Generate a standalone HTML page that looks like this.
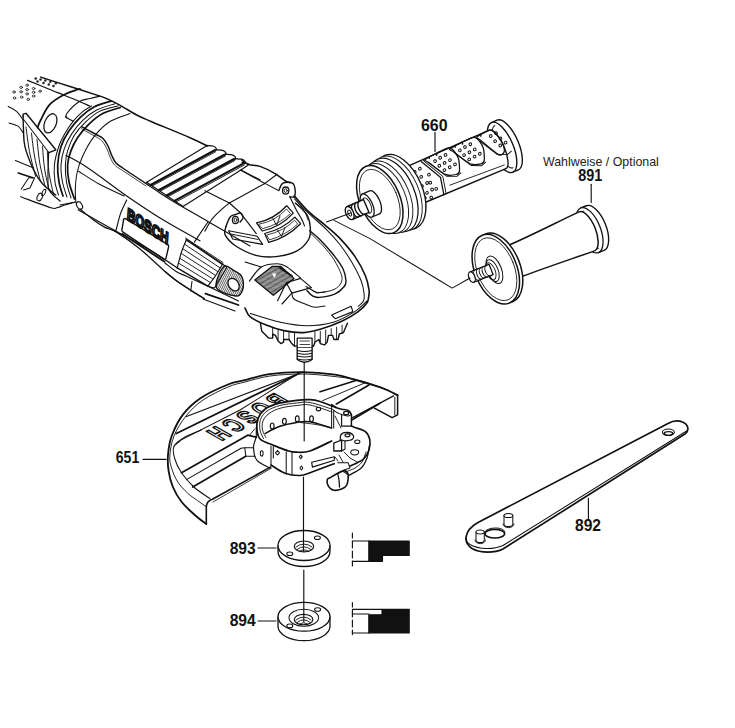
<!DOCTYPE html>
<html><head><meta charset="utf-8">
<style>
html,body{margin:0;padding:0;background:#fff;width:735px;height:728px;overflow:hidden}
svg{position:absolute;left:0;top:0}
.t{font-family:"Liberation Sans",sans-serif;font-weight:bold;fill:#111}
.w{font-family:"Liberation Sans",sans-serif;fill:#222}
</style></head><body>
<svg width="735" height="728" viewBox="0 0 735 728">
<g fill="none" stroke="#111" stroke-width="1.3" stroke-linejoin="round" stroke-linecap="round">
<text class="t" x="115.8" y="463.4" font-size="16" textLength="23.4" lengthAdjust="spacingAndGlyphs" stroke="none">651</text>
<text class="t" x="421" y="131.2" font-size="16" textLength="26.6" lengthAdjust="spacingAndGlyphs" stroke="none">660</text>
<text class="t" x="578.3" y="181.3" font-size="16" textLength="24" lengthAdjust="spacingAndGlyphs" stroke="none">891</text>
<text class="w" x="543" y="165.9" font-size="12.6" textLength="115.8" lengthAdjust="spacingAndGlyphs" stroke="none">Wahlweise / Optional</text>
<text class="t" x="229.7" y="553.8" font-size="16" textLength="26" lengthAdjust="spacingAndGlyphs" stroke="none">893</text>
<text class="t" x="229.7" y="626" font-size="16" textLength="26" lengthAdjust="spacingAndGlyphs" stroke="none">894</text>
<text class="t" x="575" y="531" font-size="16" textLength="26" lengthAdjust="spacingAndGlyphs" stroke="none">892</text>
<path d="M143 459.4H166" stroke-width="1.15"/>
<path d="M435 132.4V151.4" stroke-width="1.15"/>
<path d="M591.2 184.3V202.5" stroke-width="1.15"/>
<path d="M258 548H276" stroke-width="1.15"/>
<path d="M258 621H276" stroke-width="1.15"/>
<path d="M588.4 498.4V519.3" stroke-width="1.15"/>

<!-- 893 flange -->
<g id="f893">
<path d="M278 545.5 V551.5 A26 15 0 0 0 330 551.5 V545.5"/>
<ellipse cx="304" cy="545.5" rx="26" ry="15" fill="#fff"/>
<ellipse cx="304" cy="546.4" rx="9.7" ry="5.4" stroke-width="1.15"/>
<path d="M296 547 Q304 541 312 547 M297 549.5 Q304 544 311 549.5 M299 551.5 Q304 548 309 551.5" stroke-width="0.92"/>
<ellipse cx="317.4" cy="537.7" rx="3" ry="1.8" stroke-width="1.03"/>
<ellipse cx="289.8" cy="553.8" rx="3" ry="1.8" stroke-width="1.03"/>
</g>
<!-- 894 nut -->
<g id="f894">
<path d="M278 616.8 V626.3 A26 14.4 0 0 0 330 626.3 V616.8"/>
<ellipse cx="304" cy="616.8" rx="26" ry="14.4" fill="#fff"/>
<ellipse cx="303.8" cy="617.8" rx="14.8" ry="8.5" stroke-width="1.03"/>
<ellipse cx="303.6" cy="619.5" rx="9.3" ry="5.2" stroke-width="1.15"/>
<path d="M296 620 Q304 614 311 620 M297 622.5 Q304 617 310 622.5 M299 624.5 Q304 621 308 624.5" stroke-width="0.92"/>
<ellipse cx="317.6" cy="609.5" rx="3" ry="1.8" stroke-width="1.03"/>
<ellipse cx="289.8" cy="625.9" rx="3" ry="1.8" stroke-width="1.03"/>
</g>
<!-- vertical axis lines -->
<path d="M303.5 477 V551" stroke-width="1.15"/>
<path d="M303.8 570 V622" stroke-width="1.15"/>
<!-- icons -->
<g stroke-width="1.15">
<path d="M352.4 533 V538 M352.4 541 V548 M352.4 551 V558 M352.4 561 V566"/>
<path d="M352.4 541 H369 M352.4 561.3 H369"/>
<path d="M368.8 541 H409.2 V555.5 H382.5 V561.3 H368.8 Z" fill="#111"/>
<path d="M352.4 602.5 V607 M352.4 610 V617 M352.4 620 V627 M352.4 630 V634.6"/>
<path d="M352.4 609.4 H382 M352.4 614 H369 M352.4 633 H369"/>
<path d="M382 609.4 H409.2 V633 H368.8 V614.8 H382 Z" fill="#111"/>
</g>

<g id="wrench">
<path d="M478 522.5 L668 423.5 C672 421.3 678 420.3 682.5 422 C688.5 424.5 689.5 430.5 685.3 433.8 L503 549 C495 553 481 553.5 472 548.5 C463.5 543 463 531 478 522.5 Z" stroke-width="1.72"/>
<path d="M687 430.8 L503 545.5 C493 550 479 549.5 470 544.5 C467 542.5 465.8 540.5 465.5 538" stroke-width="1.03"/>
<ellipse cx="494.8" cy="533.7" rx="9.8" ry="4.3" stroke-width="1.61"/>
<path d="M484.5 532 C486 527.5 503 525.5 505 532" stroke-width="0.92"/>
<path d="M476 532 V540 C476 543.5 484.3 543.5 484.3 540 V532" stroke-width="1.03" fill="#fff"/>
<ellipse cx="480.1" cy="532" rx="4.1" ry="2" stroke-width="1.03" fill="#fff"/>
<path d="M475 540 C475 545 485.5 545 485.5 540" stroke-width="0.92"/>
<path d="M504 515.5 V524 C504 527.5 512.8 527.5 512.8 524 V515.5" stroke-width="1.03" fill="#fff"/>
<ellipse cx="508.4" cy="515.5" rx="4.4" ry="2.1" stroke-width="1.03" fill="#fff"/>
<path d="M503 524 C503 529 514 529 514 524" stroke-width="0.92"/>
<ellipse cx="668.4" cy="432.2" rx="6" ry="3.2" stroke-width="1.03"/>
<path d="M664 433.5 C665 431 672 431 673 433.5 C672 436 665 436 664 433.5 Z" stroke-width="1.49"/>
</g>

<g id="guard">
<path d="M397.6 395.2 C394.9 393.9 388.5 390.3 381.2 387.7 C373.9 385.1 361.7 381.7 354.0 379.5 C346.3 377.3 343.6 375.9 335.0 374.7 C326.4 373.5 313.4 372.3 302.5 372.2 C291.6 372.1 279.1 372.8 269.5 374.1 C259.9 375.4 251.9 378.5 245.0 380.2 C238.1 381.9 235.4 381.5 228.0 384.5 C220.6 387.5 208.3 393.0 200.8 398.0 C193.3 403.0 187.9 408.1 183.1 414.4 C178.2 420.7 174.2 429.3 171.7 436.0 C169.2 442.7 168.5 449.0 168.0 454.8 C167.5 460.6 167.8 465.5 168.6 470.9 C169.4 476.3 170.8 481.9 172.9 487.0 C175.1 492.1 178.0 497.3 181.5 501.8 C185.0 506.3 189.8 510.5 193.9 514.2 C198.0 517.9 204.2 522.5 206.3 524.1" stroke-width="1.84"/>
<path d="M389.0 390.5 C384.2 388.8 369.8 382.9 360.0 380.5 C350.2 378.1 339.7 377.1 330.0 376.0 C320.3 374.9 312.0 374.0 302.0 374.0 C292.0 374.0 279.5 374.7 270.0 376.0 C260.5 377.3 252.0 380.2 245.0 382.0 C238.0 383.8 235.0 384.0 228.0 387.0 C221.0 390.0 210.0 395.2 203.0 400.0 C196.0 404.8 190.8 410.0 186.0 416.0 C181.2 422.0 176.7 429.3 174.0 436.0 C171.3 442.7 170.2 450.7 169.8 456.1 C169.4 461.5 170.4 464.1 171.7 468.4 C173.0 472.7 175.1 477.9 177.8 482.0 C180.5 486.1 184.4 490.1 187.7 493.2 C191.0 496.3 194.5 498.4 197.6 500.6 C200.7 502.9 204.9 505.7 206.3 506.7" stroke-width="0.92"/>
<path d="M201.2 430.0 C198.5 431.2 189.5 434.3 185.0 437.0 C180.5 439.7 175.7 442.6 174.0 446.2 C172.3 449.8 173.4 454.1 174.7 458.5 C175.9 462.9 178.3 468.1 181.5 472.8 C184.7 477.6 189.2 482.7 193.9 487.0 C198.7 491.3 207.3 496.8 210.0 498.7" stroke-width="1.03"/>
<path d="M206.3 524.1 V506.9 C206.5 503.5 208.5 500.5 212.4 499.3 L270.8 466.9" stroke-width="1.61"/>
<path d="M352.2 419.7 L380 403.2" stroke-width="1.61"/>
<path d="M213 502 L270 469" stroke-width="0.80"/>
<path d="M397.6 395.2 V414.9 L392.1 417.6 L374.4 408.1" stroke-width="1.49"/>
<path d="M394.8 397.2 V414.9" stroke-width="0.92"/>
<path d="M393.5 395.9 L352.7 417.6" stroke-width="1.26"/>
<path d="M181.5 472.8 L247.7 435.2 L256.3 437.1" stroke-width="1.72"/>
<path d="M256.3 437.1 L256.3 427.5" stroke-width="1.15"/>
<path d="M186.5 479.6 L241.0 448.2 L244.8 447.7 L253.5 447.7" stroke-width="1.03"/>
<path d="M244.8 447.7 L245.8 456.3 L255.0 456.3" stroke-width="1.03"/>
<path d="M192.7 487.0 L245.8 456.3" stroke-width="1.72"/>
<path d="M174.0 446.2 L181.5 440.0" stroke-width="0.92"/>
<path d="M186.5 416.5 L302.5 372.2" stroke-width="1.15"/>
<path d="M176.3 433.5 L298.9 373.5" stroke-width="1.72"/>
<path d="M181.8 439.6 L240.0 410.0 L296.4 374.7" stroke-width="1.03"/>
<path d="M320.0 391.8 L356.7 380.2" stroke-width="1.61"/>
<path d="M322.7 400.6 L364.9 382.9" stroke-width="1.03"/>
<path d="M336.3 404.0 L369.0 385.0" stroke-width="1.61"/>

<text x="0" y="0" font-family="Liberation Sans, sans-serif" font-weight="bold" font-size="20" letter-spacing="4.6" fill="#fff" stroke="#111" stroke-width="1.72" stroke-linejoin="round" vector-effect="non-scaling-stroke" transform="matrix(-0.772 0.433 -1.154 -0.661 275.3 392.7)">BOSCH</text>

<path d="M335.7 407.4 C333.1 406.4 324.3 402.8 320.0 401.5 C315.7 400.2 313.9 399.9 310.0 399.7 C306.1 399.5 301.8 399.7 296.7 400.3 C291.6 400.9 284.4 401.8 279.2 403.2 C273.9 404.6 268.7 406.5 265.2 409.0 C261.7 411.5 259.6 414.8 258.2 418.3 C256.8 421.8 256.6 426.5 257.0 430.0 C257.4 433.5 257.8 436.9 260.5 439.4 C263.2 441.9 268.6 443.3 273.3 445.2 C278.0 447.1 284.6 449.8 288.5 451.0 C292.4 452.2 293.1 452.2 296.7 452.2 C300.3 452.2 304.2 452.9 310.0 451.0 C315.8 449.1 328.0 442.7 331.6 441.0" stroke-width="1.72" fill="#fff"/>
<path d="M333.0 409.5 C329.2 408.3 316.1 403.6 310.0 402.5 C303.9 401.4 301.7 402.5 296.7 403.0 C291.7 403.5 284.9 404.2 280.0 405.5 C275.1 406.8 270.2 408.7 267.0 411.0 C263.8 413.3 261.7 416.3 260.5 419.5 C259.3 422.7 259.5 426.8 260.0 430.0 C260.5 433.2 262.9 437.1 263.5 438.5" stroke-width="0.92"/>
<path d="M332.0 412.0 C328.3 410.8 315.8 406.1 310.0 405.0 C304.2 403.9 301.8 405.0 297.0 405.5 C292.2 406.0 285.7 406.7 281.0 408.0 C276.3 409.3 272.0 411.3 269.0 413.5 C266.0 415.7 264.1 418.2 263.0 421.0 C261.9 423.8 262.0 427.2 262.5 430.0 C263.0 432.8 265.4 436.2 266.0 437.5" stroke-width="0.92"/>
<path d="M265.2 433.5 C267.5 432.3 273.9 428.4 279.2 426.5 C284.4 424.6 291.6 423.2 296.7 422.4 C301.8 421.6 304.2 420.9 310.0 421.8 C315.8 422.7 328.0 427.0 331.6 428.0" stroke-width="1.49"/>
<path d="M300.0 422.5 C302.7 422.8 310.7 423.6 316.0 424.5 C321.3 425.4 329.0 427.4 331.6 428.0" stroke-width="0.92"/>
<ellipse cx="272.2" cy="426.0" rx="1.9" ry="3" stroke-width="1.15"/>
<ellipse cx="284.4" cy="421.3" rx="1.9" ry="3" stroke-width="1.15"/>
<ellipse cx="297.3" cy="418.9" rx="1.9" ry="3" stroke-width="1.15"/>
<ellipse cx="311.5" cy="418.8" rx="1.9" ry="3" stroke-width="1.15"/>
<ellipse cx="318.5" cy="409" rx="2.2" ry="1.8" stroke-width="1.15"/>
<path d="M271 446 V465 M273.3 446.4 V458 M286.2 452 V474 M292 452.5 V474.5 M333.7 410 V428" stroke-width="1.03"/>
<path d="M331.6 404.6 V428" stroke-width="1.03"/>
<path d="M271.0 465.0 C273.3 466.4 280.2 471.4 285.0 473.2 C289.8 474.9 295.5 475.7 300.0 475.5 C304.5 475.3 306.3 474.0 312.0 472.0 C317.7 470.0 330.6 465.1 334.3 463.7" stroke-width="1.61"/>
<path d="M256.3 437.0 C255.8 438.8 253.4 443.6 253.5 447.5 C253.6 451.4 254.1 456.9 257.0 460.4 C259.9 463.9 268.7 467.1 271.0 468.5" stroke-width="1.15"/>
<path d="M250.0 434.7 L254.7 428.9" stroke-width="0.92"/>
<ellipse cx="261.7" cy="453.4" rx="1.4" ry="2.6" stroke-width="1.03"/>
<path d="M275.5 452.8 L277.5 450.5 L279.5 452.8 L277.5 455 Z" stroke-width="1.03"/>
<path d="M299.3 456.9 L300.8 455 L302.3 456.9 L300.8 458.8 Z M299.9 468 L301.4 466 L302.9 468 L301.4 470 Z" stroke-width="1.03"/>
<path d="M311.7 462.3 L334.3 456.8 L334.3 460.2 L312.4 467.1Z" stroke-width="1.15"/>
<path d="M331.6 404.6 C332.3 405.1 334.3 406.7 336.0 407.5 C337.7 408.3 339.6 408.7 341.6 409.2 C343.6 409.7 346.5 409.6 348.1 410.5 C349.7 411.4 350.8 412.8 351.4 414.4 C351.9 416.0 351.4 418.1 351.4 420.0 C351.4 421.9 351.4 425.1 351.4 426.1" stroke-width="1.49"/>
<path d="M341.6 414.4 L341.6 426.1 L351.4 426.1" stroke-width="1.15"/>
<path d="M333.8 410.5 C334.5 410.9 336.7 412.4 338.0 413.0 C339.3 413.6 339.9 413.9 341.6 414.4 C343.3 414.9 346.4 416.0 348.0 416.0 C349.6 416.0 350.8 414.7 351.4 414.4" stroke-width="1.03"/>
<ellipse cx="346.2" cy="413.1" rx="2.6" ry="1.7" stroke-width="1.26"/>
<path d="M351.4 426.1 C351.9 426.3 352.4 426.6 354.7 427.5 C357.0 428.4 362.6 429.4 365.1 431.4 C367.6 433.3 369.0 436.1 369.7 439.2 C370.4 442.2 370.1 446.4 369.1 449.7 C368.1 453.0 365.8 456.6 363.8 458.8 C361.8 461.0 359.6 461.5 357.3 462.7 C355.0 463.9 351.2 465.4 350.0 466.0" stroke-width="1.61"/>
<path d="M369.5 445.0 C369.1 447.2 368.4 454.2 367.0 458.0 C365.6 461.8 364.3 465.0 361.2 468.0 C358.1 471.0 350.3 474.5 348.1 475.8" stroke-width="1.26"/>
<path d="M366.0 452.0 C365.3 453.7 363.8 459.3 362.0 462.0 C360.2 464.7 357.3 466.5 355.0 468.0 C352.7 469.5 349.2 470.5 348.0 471.0" stroke-width="0.92"/>
<path d="M340.3 440.5 C340.4 439.5 339.8 435.8 341.0 434.5 C342.2 433.2 345.4 432.3 347.5 432.5 C349.6 432.7 352.6 434.3 353.4 435.5 C354.1 436.7 353.4 438.6 352.0 439.5 C350.6 440.4 346.2 440.8 345.0 441.0" stroke-width="1.26" fill="#fff"/>
<ellipse cx="347.5" cy="435.3" rx="2.5" ry="1.5" stroke-width="1.15"/>
<path d="M333.8 443.1 L341.6 440.0 L341.6 451.0 L333.8 451.0 L333.8 443.1" stroke-width="1.26"/>
<path d="M341.6 440.0 L345.0 441.0 L345.0 449.0 L341.6 451.0" stroke-width="1.03"/>
<ellipse cx="357.3" cy="441.8" rx="2.6" ry="1.8" stroke-width="1.03"/>
<ellipse cx="354.7" cy="452.3" rx="4" ry="2.6" stroke-width="1.03"/>
<path d="M335 416 L341 428 M344 452 L350 458 L357 462 M339 455 L343 462 M335 457 L338 461" stroke-width="0.92"/>
<path d="M337.7 462.7 L348.1 462.7 L350.0 468.0 L344.0 470.0" stroke-width="1.03"/>
<path d="M327.2 479.7 C326.8 481.2 327.4 484.6 328.5 486.3 C329.6 488.1 331.6 489.8 333.8 490.2 C336.0 490.6 339.4 489.8 341.6 488.9 C343.8 488.0 345.7 487.4 346.8 485.0 C347.9 482.6 348.5 476.9 348.1 474.5 C347.7 472.1 345.9 470.8 344.2 470.6 C342.5 470.4 339.9 472.1 337.7 473.2 C335.5 474.3 332.9 476.0 331.2 477.1 C329.4 478.2 327.6 478.2 327.2 479.7Z" stroke-width="1.61" fill="#fff"/>
<path d="M337.7 473.5 C337.9 474.6 338.7 477.8 339.0 480.0 C339.3 482.2 339.4 485.8 339.5 487.0" stroke-width="1.26"/>
<path d="M337.7 473.5 C338.6 473.2 341.4 471.3 343.0 471.5 C344.6 471.7 346.8 474.0 347.5 474.5" stroke-width="1.03"/>
<path d="M304.2 361 V441" stroke-width="1.15"/>
</g>

<g transform="translate(380 200) rotate(-23.3)">
<path d="M133 -27 H139 A11 27 0 0 1 139 27 H133" stroke-width="1.38" fill="#fff"/>
<ellipse cx="133.0" cy="0.0" rx="11.0" ry="27.0" stroke-width="1.38" fill="#fff"/>
<path d="M135 -23 A8 23 0 0 0 135 23" stroke-width="0.92"/>
<path d="M30 -20 L128 -21 A7 21 0 0 1 128 21 L30 20 Z" stroke-width="1.38" fill="#fff"/>
<path d="M58.0 -19.5 C60.9 -20.0 80.4 -21.9 84.0 -20.5 C87.6 -19.1 88.5 -10.7 88.5 -7.7 C88.5 -4.7 85.4 3.2 84.4 4.9 C83.4 6.6 81.7 7.0 80.0 6.7 C78.3 6.4 72.5 4.9 70.0 2.3 C67.5 -0.3 60.4 -13.5 59.0 -16.0 C57.6 -18.5 55.1 -19.0 58.0 -19.5Z" stroke-width="1.26"/>
<path d="M60.0 -14.5 L70.5 4.5 L80.0 8.7 L85.0 7.0" stroke-width="0.92"/>
<circle cx="66.0" cy="-14.0" r="1.35" stroke-width="0.98"/>
<circle cx="72.0" cy="-15.0" r="1.35" stroke-width="0.98"/>
<circle cx="78.0" cy="-15.5" r="1.35" stroke-width="0.98"/>
<circle cx="68.0" cy="-8.0" r="1.35" stroke-width="0.98"/>
<circle cx="74.0" cy="-8.5" r="1.35" stroke-width="0.98"/>
<circle cx="80.0" cy="-9.0" r="1.35" stroke-width="0.98"/>
<circle cx="71.0" cy="-2.0" r="1.35" stroke-width="0.98"/>
<circle cx="77.0" cy="-2.5" r="1.35" stroke-width="0.98"/>
<circle cx="83.0" cy="-3.0" r="1.35" stroke-width="0.98"/>
<path d="M85.0 -19.5 C87.9 -20.0 107.4 -21.9 111.0 -20.5 C114.6 -19.1 115.5 -10.7 115.5 -7.7 C115.5 -4.7 112.4 3.2 111.4 4.9 C110.4 6.6 108.7 7.0 107.0 6.7 C105.3 6.4 99.5 4.9 97.0 2.3 C94.5 -0.3 87.4 -13.5 86.0 -16.0 C84.6 -18.5 82.1 -19.0 85.0 -19.5Z" stroke-width="1.26"/>
<path d="M87.0 -14.5 L97.5 4.5 L107.0 8.7 L112.0 7.0" stroke-width="0.92"/>
<circle cx="93.0" cy="-14.0" r="1.35" stroke-width="0.98"/>
<circle cx="99.0" cy="-15.0" r="1.35" stroke-width="0.98"/>
<circle cx="105.0" cy="-15.5" r="1.35" stroke-width="0.98"/>
<circle cx="95.0" cy="-8.0" r="1.35" stroke-width="0.98"/>
<circle cx="101.0" cy="-8.5" r="1.35" stroke-width="0.98"/>
<circle cx="107.0" cy="-9.0" r="1.35" stroke-width="0.98"/>
<circle cx="98.0" cy="-2.0" r="1.35" stroke-width="0.98"/>
<circle cx="104.0" cy="-2.5" r="1.35" stroke-width="0.98"/>
<circle cx="110.0" cy="-3.0" r="1.35" stroke-width="0.98"/>
<path d="M114.0 -19.5 C115.5 -20.1 126.7 -21.4 129.0 -20.5 C131.3 -19.6 132.8 -14.0 133.5 -12.0 C134.2 -10.0 135.1 -5.0 135.0 -3.0 C134.9 -1.0 133.9 4.0 133.0 5.0 C132.1 6.0 129.0 7.8 127.0 5.5 C125.0 3.2 117.5 -12.1 116.0 -15.0 C114.5 -17.9 112.5 -18.9 114.0 -19.5Z" stroke-width="1.26"/>
<path d="M115.0 -14.5 L125.5 4.5 L135.0 8.7 L140.0 7.0" stroke-width="0.92"/>
<circle cx="127.0" cy="-15.0" r="1.35" stroke-width="0.98"/>
<circle cx="133.0" cy="-15.5" r="1.35" stroke-width="0.98"/>
<circle cx="129.0" cy="-8.5" r="1.35" stroke-width="0.98"/>
<circle cx="135.0" cy="-9.0" r="1.35" stroke-width="0.98"/>
<circle cx="132.0" cy="-2.5" r="1.35" stroke-width="0.98"/>
<circle cx="138.0" cy="-3.0" r="1.35" stroke-width="0.98"/>
<path d="M53.0 -19.0 L64.5 3.0 L60.7 20.6" stroke-width="1.26"/>
<path d="M55.5 -19.0 L67.0 3.0 L63.2 20.6" stroke-width="0.92"/>
<circle cx="43.0" cy="-12.0" r="1.35" stroke-width="0.98"/>
<circle cx="49.0" cy="-13.0" r="1.35" stroke-width="0.98"/>
<circle cx="55.0" cy="-4.0" r="1.35" stroke-width="0.98"/>
<circle cx="41.0" cy="-4.0" r="1.35" stroke-width="0.98"/>
<circle cx="47.0" cy="-5.0" r="1.35" stroke-width="0.98"/>
<circle cx="53.0" cy="4.0" r="1.35" stroke-width="0.98"/>
<circle cx="44.0" cy="4.0" r="1.35" stroke-width="0.98"/>
<circle cx="50.0" cy="3.0" r="1.35" stroke-width="0.98"/>
<circle cx="56.0" cy="12.0" r="1.35" stroke-width="0.98"/>
<circle cx="46.0" cy="12.0" r="1.35" stroke-width="0.98"/>
<circle cx="52.0" cy="11.0" r="1.35" stroke-width="0.98"/>
<circle cx="48.0" cy="18.0" r="1.35" stroke-width="0.98"/>
<circle cx="42.0" cy="16.0" r="1.35" stroke-width="0.98"/>
<circle cx="40.0" cy="-19" r="0.9" fill="#111" stroke="none"/>
<circle cx="62.0" cy="-19" r="0.9" fill="#111" stroke="none"/>
<circle cx="70.0" cy="-19" r="0.9" fill="#111" stroke="none"/>
<circle cx="90.0" cy="-19" r="0.9" fill="#111" stroke="none"/>
<circle cx="98.0" cy="-19" r="0.9" fill="#111" stroke="none"/>
<circle cx="118.0" cy="-19" r="0.9" fill="#111" stroke="none"/>
<path d="M70.0 14.0 L128.0 17.0" stroke-width="0.80"/>
<ellipse cx="22.0" cy="0.5" rx="22.0" ry="39.5" stroke-width="1.38" fill="#fff"/>
<ellipse cx="18.0" cy="0.5" rx="22.0" ry="39.5" stroke-width="0.92" fill="#fff"/>
<ellipse cx="14.0" cy="0.5" rx="21.5" ry="39.0" stroke-width="1.26" fill="#fff"/>
<ellipse cx="9.0" cy="0.5" rx="21.0" ry="38.0" stroke-width="0.92" fill="#fff"/>
<ellipse cx="5.0" cy="0.5" rx="20.5" ry="37.0" stroke-width="0.92" fill="#fff"/>
<ellipse cx="0.0" cy="-0.5" rx="20.0" ry="36.0" stroke-width="1.49" fill="#fff"/>
<ellipse cx="0.0" cy="-0.5" rx="17.5" ry="32.0" stroke-width="0.80"/>
<path d="M-14 -12.5 H-6 A5.5 12.5 0 0 1 -6 12.5 H-14" stroke-width="1.26" fill="#fff"/>
<ellipse cx="-14.0" cy="0.0" rx="5.5" ry="12.5" stroke-width="1.26" fill="#fff"/>
<ellipse cx="-14.0" cy="0.0" rx="3.6" ry="8.2" stroke-width="0.92"/>
<path d="M-33 -7 H-15 V7 H-33" stroke-width="1.38" fill="#fff"/>
<path d="M-30.0 -7 A3.5 7 0 0 0 -30.0 7" stroke-width="1.38"/>
<path d="M-26.5 -7 A3.5 7 0 0 0 -26.5 7" stroke-width="1.38"/>
<path d="M-23.0 -7 A3.5 7 0 0 0 -23.0 7" stroke-width="1.38"/>
<path d="M-19.5 -7 A3.5 7 0 0 0 -19.5 7" stroke-width="1.38"/>
<ellipse cx="-33.0" cy="0.0" rx="3.8" ry="7.0" stroke-width="1.38" fill="#fff"/>
<ellipse cx="-33.0" cy="0.0" rx="1.6" ry="3.2" stroke-width="0.92"/>
</g>
<g transform="translate(498.5 266.5) rotate(-21.7)">
<path d="M98 -24 H104 A11 24 0 0 1 104 24 H98" stroke-width="1.38" fill="#fff"/>
<ellipse cx="98.0" cy="0.0" rx="11.0" ry="24.0" stroke-width="1.26" fill="#fff"/>
<path d="M100 -20 A8 20 0 0 0 100 20" stroke-width="0.92"/>
<path d="M18 -16 C45 -17 70 -19.5 95 -21 A9 21 0 0 1 95 21 C70 20 45 18.5 18 18 Z" stroke-width="1.49" fill="#fff"/>
<ellipse cx="0.0" cy="1.5" rx="21.0" ry="36.5" stroke-width="1.49" fill="#fff"/>
<ellipse cx="-3.5" cy="1.5" rx="21.0" ry="36.5" stroke-width="1.49" fill="#fff"/>
<ellipse cx="-3.5" cy="1.5" rx="18.5" ry="33.0" stroke-width="0.80"/>
<ellipse cx="-5.0" cy="1.6" rx="7.0" ry="14.5" stroke-width="1.03" fill="#fff"/>
<ellipse cx="-7.0" cy="1.6" rx="5.5" ry="11.5" stroke-width="0.92"/>
<ellipse cx="-9.0" cy="1.6" rx="4.5" ry="9.0" stroke-width="0.92"/>
<path d="M-28.7 -5.5 H-8 V5.5 H-28.7" stroke-width="1.26" fill="#fff"/>
<path d="M-26.0 -5.5 A3 5.5 0 0 0 -26.0 5.5" stroke-width="1.03"/>
<path d="M-23.0 -5.5 A3 5.5 0 0 0 -23.0 5.5" stroke-width="1.03"/>
<path d="M-20.0 -5.5 A3 5.5 0 0 0 -20.0 5.5" stroke-width="1.03"/>
<path d="M-17.0 -5.5 A3 5.5 0 0 0 -17.0 5.5" stroke-width="1.03"/>
<path d="M-14.0 -5.5 A3 5.5 0 0 0 -14.0 5.5" stroke-width="1.03"/>
<path d="M-11.0 -5.5 A3 5.5 0 0 0 -11.0 5.5" stroke-width="1.03"/>
<ellipse cx="-28.7" cy="0.0" rx="3.0" ry="5.5" stroke-width="1.26" fill="#fff"/>
</g>
<path d="M326.5 222.0 L350.7 212.9" stroke-width="1.03"/>
<path d="M334.0 220.4 L370.0 238.6 L440.0 280.7 L452.2 288.1 L470.0 278.0" stroke-width="1.03"/>

<g id="grinder">
<path d="M40.7 77.1 C45.6 78.7 60.1 83.3 70.0 86.5 C79.9 89.7 93.7 94.0 100.0 96.1 C106.3 98.2 104.5 97.7 107.9 99.2 C111.3 100.8 115.4 102.8 120.2 105.4 C125.0 108.0 131.7 112.4 136.7 115.0 C141.7 117.6 141.5 117.4 150.4 121.2 C159.3 125.0 180.5 133.5 190.0 137.7 C199.5 141.8 204.6 144.7 207.5 146.1" stroke-width="1.49"/>
<path d="M27.6 80.3 C30.5 81.5 39.0 85.0 45.0 87.5 C51.0 90.0 58.3 92.9 63.5 95.0 C68.7 97.1 71.7 98.2 76.0 100.0 C80.3 101.8 87.3 104.9 89.6 105.9" stroke-width="1.26"/>
<path d="M80.0 88.8 C79.6 88.9 80.5 88.5 77.7 89.5 C75.0 90.5 68.2 92.5 63.5 95.0 C58.8 97.5 53.2 100.6 49.4 104.8 C45.6 109.0 42.7 116.2 40.7 120.0 C38.7 123.8 38.0 126.4 37.5 127.7" stroke-width="1.72"/>
<ellipse cx="50.4" cy="123.3" rx="5.8" ry="10" transform="rotate(22 50.4 123.3)" stroke-width="1.26"/>
<path d="M23.1 116.2 L23.1 114.2 L26.0 113.3 L55.8 149.8 L49.0 152.7" stroke-width="1.38"/>
<path d="M24.0 120.0 L49.0 152.7" stroke-width="1.03"/>
<path d="M23.1 116.2 C23.2 118.5 23.2 124.9 23.5 130.0 C23.8 135.1 23.3 140.2 25.0 146.9 C26.7 153.6 30.8 163.9 33.7 170.0 C36.6 176.1 38.6 179.3 42.3 183.5 C46.0 187.7 53.5 193.1 55.8 195.0" stroke-width="1.38"/>
<path d="M26.0 127.0 C26.6 131.1 27.9 143.5 29.5 151.7 C31.1 159.9 34.6 172.3 35.6 176.4" stroke-width="0.98"/>
<path d="M31.5 133.2 C32.0 137.2 33.2 149.3 34.7 157.3 C36.2 165.4 39.5 177.5 40.5 181.5" stroke-width="0.98"/>
<path d="M37.0 139.3 C37.5 143.2 38.4 154.9 39.7 162.7 C41.0 170.4 44.1 182.1 45.0 186.0" stroke-width="0.98"/>
<path d="M42.5 146.2 C42.8 149.8 43.4 160.8 44.5 168.1 C45.5 175.4 48.2 186.3 49.0 190.0" stroke-width="0.98"/>
<path d="M47.3 151.7 C47.6 155.3 48.1 166.0 49.1 173.1 C50.1 180.2 52.8 190.9 53.5 194.5" stroke-width="0.98"/>
<path d="M48.7 152.4 C48.6 155.9 47.9 167.4 48.0 173.7 C48.1 180.0 47.2 185.6 49.3 190.2 C51.3 194.8 58.5 199.4 60.3 201.2" stroke-width="1.15"/>
<path d="M66.8 117.9 C66.8 117.2 64.7 116.2 66.8 113.5 C68.9 110.8 75.4 104.1 79.3 101.6 C83.2 99.1 86.5 99.4 90.0 98.5 C93.5 97.6 98.3 96.5 100.0 96.1" stroke-width="1.15"/>
<path d="M65.4 116.9 L73.1 121.3" stroke-width="1.15"/>
<path d="M91.8 105.9 C90.3 106.8 86.1 108.8 83.0 111.4 C79.9 114.0 76.2 117.5 73.1 121.3 C70.0 125.1 66.7 130.3 64.3 134.5 C61.9 138.7 60.4 141.4 58.8 146.5 C57.1 151.6 55.0 159.1 54.4 165.0 C53.8 170.9 54.3 177.0 55.0 182.0 C55.7 187.0 57.9 192.8 58.5 195.0" stroke-width="1.03"/>
<path d="M111.5 100.9 C108.6 101.9 99.1 104.3 94.0 107.0 C88.9 109.7 85.0 112.9 80.8 116.9 C76.6 120.9 72.0 126.3 68.7 131.2 C65.4 136.1 62.8 140.9 61.0 146.5 C59.2 152.1 58.0 159.1 57.7 165.0 C57.4 170.9 58.1 176.8 59.0 182.0 C59.9 187.2 62.3 193.7 63.0 196.0" stroke-width="1.72"/>
<path d="M114.8 103.7 C111.7 104.8 101.5 107.5 96.2 110.3 C90.9 113.0 87.0 116.3 83.0 120.2 C79.0 124.1 75.1 128.7 72.0 133.4 C68.9 138.2 66.1 143.4 64.3 148.7 C62.5 154.0 61.3 159.4 61.0 165.0 C60.7 170.6 61.5 176.7 62.5 182.0 C63.5 187.3 66.2 194.5 67.0 197.0" stroke-width="1.03"/>
<path d="M118.1 105.9 C115.0 106.8 105.0 108.7 99.5 111.4 C94.0 114.2 89.4 118.4 85.2 122.4 C81.0 126.4 77.1 130.8 74.2 135.5 C71.3 140.2 69.1 146.0 67.6 150.9 C66.1 155.8 65.6 159.8 65.4 165.0 C65.2 170.2 65.6 176.5 66.5 182.0 C67.4 187.5 70.2 195.3 71.0 198.0" stroke-width="1.03"/>
<path d="M120.3 107.5 C117.4 108.5 108.0 110.8 102.7 113.6 C97.4 116.4 92.7 120.6 88.5 124.6 C84.3 128.6 80.4 133.3 77.5 137.7 C74.6 142.1 72.6 146.3 70.9 150.9 C69.2 155.5 67.9 159.8 67.6 165.0 C67.3 170.2 67.8 176.3 69.0 182.0 C70.2 187.7 73.6 196.2 74.5 199.0" stroke-width="1.72"/>
<path d="M130.0 113.6 C126.7 114.9 116.4 117.5 110.4 121.3 C104.4 125.1 98.7 130.7 94.0 136.6 C89.3 142.5 85.3 150.4 82.5 156.5 C79.7 162.6 78.2 167.5 77.0 173.0 C75.8 178.5 75.5 184.6 75.3 189.5 C75.1 194.4 75.8 200.4 75.9 202.6" stroke-width="1.03"/>
<path d="M81.9 126.8 C84.3 128.1 92.7 132.6 96.2 134.5 C99.7 136.4 101.0 136.6 103.0 138.5 C105.0 140.4 106.5 143.1 108.0 146.0 C109.5 148.9 110.7 153.2 112.0 156.0 C113.3 158.8 114.1 160.9 116.0 163.0 C117.9 165.1 118.1 164.8 123.4 168.5 C128.8 172.2 144.0 182.2 148.1 184.9" stroke-width="1.49"/>
<path d="M81.5 128.8 C83.8 130.1 92.2 134.6 95.5 136.5 C98.8 138.4 99.7 138.7 101.5 140.5 C103.3 142.3 104.8 144.7 106.3 147.5 C107.8 150.3 108.9 154.6 110.3 157.5 C111.7 160.4 112.5 162.6 114.5 164.8 C116.5 167.0 117.2 167.0 122.5 170.5 C127.8 174.0 142.1 183.4 146.0 186.0" stroke-width="0.80"/>
<path d="M66.0 155.4 C68.4 156.7 74.6 159.6 80.3 163.1 C86.0 166.6 92.4 171.1 100.0 176.5 C107.6 181.9 116.0 188.6 126.0 195.5 C136.0 202.4 147.7 210.4 160.0 218.0 C172.3 225.6 193.3 237.0 200.0 240.8" stroke-width="1.15"/>
<path d="M78.6 171.3 C82.0 173.4 91.4 179.9 99.0 184.0 C106.6 188.1 120.0 194.0 124.2 196.0" stroke-width="1.03"/>
<path d="M60.0 204.9 L76.0 202.0" stroke-width="1.03"/>
<path d="M8.2 106.5 C9.6 107.3 14.0 109.2 16.5 111.4 C19.0 113.6 21.9 118.3 23.0 119.7" stroke-width="1.03"/>
<path d="M9.0 123.0 C10.5 123.5 15.7 124.6 18.0 126.2 C20.3 127.8 22.2 131.7 23.0 132.8" stroke-width="1.03"/>
<path d="M15.4 160.4 L33.7 168.0" stroke-width="1.03"/>
<path d="M18.3 172.9 L32.7 177.7" stroke-width="1.61"/>
<path d="M20.6 196.7 C25.6 198.5 44.6 205.9 50.8 207.7 C56.9 209.5 55.2 207.9 57.5 207.5 C59.8 207.1 61.8 205.9 64.6 205.0 C67.4 204.1 72.6 202.7 74.2 202.2" stroke-width="1.15"/>
<path d="M21.2 189.2 L28.8 177.7 L34.6 177.7 L30.0 188.0 L23.5 190.0" stroke-width="1.03"/>
<ellipse cx="39.8" cy="197" rx="2.5" ry="4" transform="rotate(25 39.8 197)" stroke-width="1.03"/>
<ellipse cx="43.8" cy="192.5" rx="1.5" ry="3.5" transform="rotate(25 43.8 192.5)" stroke-width="1.03"/>
<ellipse cx="79.5" cy="205.5" rx="2.6" ry="4" transform="rotate(-30 79.5 205.5)" stroke-width="1.15"/>
<ellipse cx="14.0" cy="92.0" rx="1.3" ry="1.1" stroke-width="0.80"/>
<ellipse cx="14.5" cy="98.0" rx="1.3" ry="1.1" stroke-width="0.80"/>
<ellipse cx="21.1" cy="87.4" rx="1.3" ry="1.1" stroke-width="0.80"/>
<ellipse cx="21.1" cy="91.8" rx="1.3" ry="1.1" stroke-width="0.80"/>
<ellipse cx="21.6" cy="97.2" rx="1.3" ry="1.1" stroke-width="0.80"/>
<ellipse cx="27.1" cy="85.2" rx="1.3" ry="1.1" stroke-width="0.80"/>
<ellipse cx="27.1" cy="89.6" rx="1.3" ry="1.1" stroke-width="0.80"/>
<ellipse cx="27.1" cy="93.9" rx="1.3" ry="1.1" stroke-width="0.80"/>
<ellipse cx="28.2" cy="99.4" rx="1.3" ry="1.1" stroke-width="0.80"/>
<ellipse cx="33.6" cy="88.5" rx="1.3" ry="1.1" stroke-width="0.80"/>
<ellipse cx="33.6" cy="92.3" rx="1.3" ry="1.1" stroke-width="0.80"/>
<ellipse cx="33.6" cy="96.1" rx="1.3" ry="1.1" stroke-width="0.80"/>
<ellipse cx="40.1" cy="91.2" rx="1.3" ry="1.1" stroke-width="0.80"/>
<circle cx="35.7" cy="78.6" r="1.25" fill="#222" stroke="none"/>
<circle cx="40.5" cy="79.6" r="1.25" fill="#222" stroke="none"/>
<circle cx="45.3" cy="80.6" r="1.25" fill="#222" stroke="none"/>
<circle cx="50.3" cy="81.8" r="1.25" fill="#222" stroke="none"/>
<circle cx="55.8" cy="83.2" r="1.25" fill="#222" stroke="none"/>
<circle cx="37.5" cy="81.5" r="1.25" fill="#222" stroke="none"/>
<circle cx="43.5" cy="83.0" r="1.25" fill="#222" stroke="none"/>
<circle cx="48.8" cy="84.6" r="1.25" fill="#222" stroke="none"/>
<circle cx="53.5" cy="86.0" r="1.25" fill="#222" stroke="none"/>
<path d="M146.7 182.2 L207.1 145.5" stroke-width="1.15"/>
<path d="M207.1 145.5 C208.1 145.6 211.4 145.5 212.9 146.0 C214.4 146.5 215.7 147.6 216.2 148.3 C216.7 149.0 215.8 149.9 215.7 150.2" stroke-width="1.26"/>
<path d="M150.6 184.8 L214.8 150.2" stroke-width="2.07"/>
<path d="M152.3 185.9 L215.7 151.7" stroke-width="0.92"/>
<path d="M216.7 149.9 C217.7 150.0 221.0 149.9 222.5 150.4 C224.0 150.9 225.3 152.0 225.8 152.7 C226.3 153.4 225.4 154.3 225.3 154.6" stroke-width="1.26"/>
<path d="M151.2 185.2 L216.7 149.9" stroke-width="1.03"/>
<path d="M158.6 190.1 L224.4 154.6" stroke-width="2.07"/>
<path d="M160.2 191.2 L225.3 156.1" stroke-width="0.92"/>
<path d="M226.3 154.3 C227.3 154.4 230.6 154.3 232.1 154.8 C233.6 155.3 234.9 156.4 235.4 157.1 C235.9 157.8 235.0 158.7 234.9 159.0" stroke-width="1.26"/>
<path d="M159.2 190.5 L226.3 154.3" stroke-width="1.03"/>
<path d="M166.5 195.5 L234.0 159.0" stroke-width="2.07"/>
<path d="M168.1 196.6 L234.9 160.5" stroke-width="0.92"/>
<path d="M235.9 158.7 C236.9 158.8 240.2 158.7 241.7 159.2 C243.2 159.7 244.5 160.8 245.0 161.5 C245.5 162.2 244.6 163.1 244.5 163.4" stroke-width="1.26"/>
<path d="M167.1 195.9 L235.9 158.7" stroke-width="1.03"/>
<path d="M174.4 200.8 L243.6 163.4" stroke-width="2.07"/>
<path d="M176.1 201.9 L244.5 164.9" stroke-width="0.92"/>
<path d="M241.9 162.1 L249.0 164.5 L240.5 170.2 L183.0 206.5" stroke-width="1.15"/>
<path d="M146.7 182.2 L183.0 206.5" stroke-width="1.15"/>
<path d="M241.4 170.2 L260.0 179.8" stroke-width="1.03"/>
<path d="M241.9 160.2 C243.1 160.9 246.0 163.5 249.0 164.5 C252.0 165.5 255.7 164.9 260.0 166.4 C264.4 167.9 270.8 171.1 275.1 173.6 C279.4 176.1 283.2 179.7 285.7 181.2 C288.2 182.7 289.4 182.4 290.2 182.7" stroke-width="1.49"/>
<path d="M148.1 184.9 C151.8 187.3 159.8 193.3 170.0 199.5 C180.2 205.7 195.8 214.4 209.1 222.2 C222.4 229.9 243.2 242.0 250.0 246.0" stroke-width="1.15"/>
<path d="M126.7 200.0 C125.7 202.2 122.3 208.7 120.6 213.4 C118.9 218.2 117.4 225.5 116.5 228.5 C115.6 231.5 115.3 230.8 115.1 231.2" stroke-width="1.15"/>
<path d="M78.1 209.8 C81.1 211.5 90.0 216.6 96.0 220.0 C102.0 223.4 105.4 225.4 114.4 230.4 C123.4 235.4 139.5 243.8 150.0 250.0 C160.5 256.2 172.7 264.9 177.2 267.9" stroke-width="1.26"/>
<path d="M80.3 209.2 C82.5 211.0 89.5 217.0 93.5 220.0 C97.5 223.0 100.5 224.9 104.5 227.1 C108.5 229.2 111.8 229.2 117.7 232.9 C123.6 236.6 132.1 242.6 140.0 249.0 C147.9 255.4 158.8 266.1 165.0 271.5 C171.2 276.9 172.7 278.0 177.2 281.3 C181.7 284.6 187.5 288.2 192.0 291.1 C196.5 294.0 202.2 297.3 204.2 298.5" stroke-width="1.26"/>
<path d="M125.5 218.6 L167.5 244.4 Q168.9 245.3 168.6 246.8 L166 258.2 Q165.4 260 163.8 259.2 L123 232.2 Q121.6 231.3 121.9 229.8 L123.6 219.7 Q124 218 125.5 218.6 Z" stroke-width="1.38"/>
<path d="M122.5 234.0 L164.5 261.8" stroke-width="1.84"/>
<text x="0" y="0" font-family="Liberation Sans, sans-serif" font-weight="bold" font-size="13" textLength="46" lengthAdjust="spacingAndGlyphs" fill="#fff" stroke="#111" stroke-width="1.95" stroke-linejoin="round" vector-effect="non-scaling-stroke" transform="matrix(0.895 0.56 -0.09 1.29 126.7 219.2)">BOSCH</text>
<path d="M186.4 239.7 C185.6 241.8 183.0 247.3 181.5 252.0 C180.0 256.7 177.9 265.2 177.2 267.9" stroke-width="1.15"/>
<path d="M222.5 264.2 C221.4 266.0 218.4 271.3 216.0 275.0 C213.6 278.7 209.2 284.3 207.9 286.2" stroke-width="1.15"/>
<path d="M186.4 239.7 L222.5 264.2" stroke-width="1.72"/>
<path d="M185.5 238.0 L223.0 262.5" stroke-width="0.92"/>
<path d="M177.2 267.9 L207.9 286.2" stroke-width="1.38"/>
<path d="M184.9 244.4 L220.1 267.9" stroke-width="0.92"/>
<path d="M183.3 249.1 L217.6 271.5" stroke-width="0.92"/>
<path d="M181.8 253.8 L215.2 275.2" stroke-width="0.92"/>
<path d="M180.3 258.5 L212.8 278.9" stroke-width="0.92"/>
<path d="M178.7 263.2 L210.3 282.5" stroke-width="0.92"/>
<path d="M222.5 264.2 L227.0 267.0 L214.5 288.0 L207.9 286.2" stroke-width="1.15"/>
<clipPath id="btnclip"><path d="M223.8 266.6 C226.7 263.8 230.8 268.9 233.6 270.3 C236.4 271.7 239.3 273.2 240.9 275.2 C242.5 277.2 243.2 279.9 243.4 282.5 C243.6 285.1 243.3 288.9 242.1 291.1 C240.9 293.4 240.3 296.6 236.0 296.0 C231.7 295.4 218.4 292.3 216.4 287.4 C214.4 282.5 220.9 269.5 223.8 266.6Z"/></clipPath>
<g clip-path="url(#btnclip)" stroke-width="0.69"><path d="M200.0 300 L220.0 260"/><path d="M202.0 300 L222.0 260"/><path d="M204.0 300 L224.0 260"/><path d="M206.0 300 L226.0 260"/><path d="M208.0 300 L228.0 260"/><path d="M210.0 300 L230.0 260"/><path d="M212.0 300 L232.0 260"/><path d="M214.0 300 L234.0 260"/><path d="M216.0 300 L236.0 260"/><path d="M218.0 300 L238.0 260"/><path d="M220.0 300 L240.0 260"/><path d="M222.0 300 L242.0 260"/><path d="M224.0 300 L244.0 260"/><path d="M226.0 300 L246.0 260"/><path d="M228.0 300 L248.0 260"/><path d="M230.0 300 L250.0 260"/><path d="M232.0 300 L252.0 260"/><path d="M234.0 300 L254.0 260"/><path d="M236.0 300 L256.0 260"/><path d="M238.0 300 L258.0 260"/><path d="M240.0 300 L260.0 260"/><path d="M242.0 300 L262.0 260"/><path d="M244.0 300 L264.0 260"/><path d="M246.0 300 L266.0 260"/><path d="M248.0 300 L268.0 260"/></g>
<path d="M223.8 266.6 C226.7 263.8 230.8 268.9 233.6 270.3 C236.4 271.7 239.3 273.2 240.9 275.2 C242.5 277.2 243.2 279.9 243.4 282.5 C243.6 285.1 243.3 288.9 242.1 291.1 C240.9 293.4 240.3 296.6 236.0 296.0 C231.7 295.4 218.4 292.3 216.4 287.4 C214.4 282.5 220.9 269.5 223.8 266.6Z" stroke-width="1.38"/>
<ellipse cx="233.6" cy="284.6" rx="5" ry="6.8" transform="rotate(-35 233.6 284.6)" fill="#fff" stroke-width="1.26"/>
<path d="M165.0 263.0 C167.0 264.5 173.3 269.8 177.0 272.0 C180.7 274.2 181.8 274.0 187.0 276.4 C192.2 278.8 199.3 282.1 207.9 286.2 C216.5 290.3 233.4 298.4 238.5 300.9" stroke-width="1.15"/>
<path d="M165.0 271.5 C167.0 273.1 172.7 278.0 177.2 281.3 C181.7 284.6 187.5 288.2 192.0 291.1 C196.5 294.0 202.2 297.3 204.2 298.5" stroke-width="1.15"/>
<path d="M192.0 281.3 L190.7 291.1" stroke-width="1.03"/>
<path d="M205.4 293.6 L238.5 305.0" stroke-width="1.84"/>
<path d="M203.0 299.0 L235.0 311.0" stroke-width="1.15"/>
<path d="M207.7 222.2 L194.4 242.1" stroke-width="1.15"/>
<path d="M240.4 169.9 L264.9 183.4" stroke-width="1.15"/>
<path d="M204.9 190.7 L229.4 203.0 L264.9 183.4" stroke-width="1.15"/>
<path d="M264.9 183.4 L279.0 190.7" stroke-width="1.03"/>
<path d="M229.4 203.0 C228.2 204.0 224.9 206.4 222.0 209.1 C219.1 211.8 215.0 215.2 212.2 218.9 C209.3 222.6 206.1 229.1 204.9 231.1" stroke-width="1.15"/>
<path d="M229.4 203.0 L240.4 212.8 L256.3 233.6" stroke-width="1.15"/>
<path d="M264.9 183.4 L277.1 174.2" stroke-width="1.15"/>
<path d="M279.0 190.0 C279.7 188.9 280.7 184.3 283.0 183.2 C285.3 182.1 290.6 181.8 292.6 183.2 C294.7 184.5 295.1 189.0 295.3 191.3 C295.5 193.6 294.8 195.9 293.9 196.8 C293.0 197.7 290.5 196.8 289.8 196.8" stroke-width="1.38"/>
<ellipse cx="285.7" cy="190.6" rx="3.2" ry="3.6" stroke-width="1.26"/>
<ellipse cx="285.7" cy="190.6" rx="1.5" ry="1.8" stroke-width="0.92"/>
<path d="M225.9 226.7 C226.6 225.1 228.4 219.2 230.0 217.2 C231.6 215.2 233.6 215.2 235.4 214.5 C237.2 213.8 239.6 212.5 240.9 213.1 C242.2 213.7 243.2 216.5 243.0 218.0 C242.8 219.5 240.5 221.3 240.0 222.0" stroke-width="1.38"/>
<ellipse cx="235.4" cy="219.9" rx="3" ry="3.6" stroke-width="1.26"/>
<ellipse cx="235.4" cy="219.9" rx="1.4" ry="1.8" stroke-width="0.92"/>
<path d="M225.9 226.7 C225.8 228.1 223.6 231.7 225.2 234.9 C226.8 238.1 230.3 242.3 235.4 245.7 C240.5 249.1 249.0 253.5 255.8 255.3 C262.6 257.1 269.4 257.3 276.2 256.6 C283.0 255.9 291.2 254.1 296.6 251.2 C302.1 248.3 306.6 243.1 308.9 239.0 C311.2 234.9 310.4 230.6 310.2 226.7 C310.0 222.8 308.9 218.8 307.5 215.8 C306.1 212.9 304.1 211.1 302.1 209.0 C300.1 206.9 296.4 204.0 295.3 203.0" stroke-width="1.38"/>
<path d="M240.9 213.1 C242.4 211.8 245.7 207.8 250.0 205.0 C254.3 202.2 261.7 198.2 266.7 196.0 C271.7 193.8 277.8 192.7 280.0 192.0" stroke-width="0.00"/>
<path d="M289.8 196.8 C290.9 199.1 294.6 206.6 296.6 210.4 C298.7 214.2 300.8 217.3 302.1 219.9 C303.4 222.5 304.1 225.0 304.5 226.0" stroke-width="1.15"/>
<path d="M293.9 196.8 C294.9 198.2 298.1 202.5 300.0 205.0 C301.9 207.5 303.7 209.5 305.0 212.0 C306.3 214.5 307.5 218.7 308.0 220.0" stroke-width="0.92"/>
<path d="M256.5 222.9 Q274 219.5 286.7 205.7 L293.3 213.1 Q280 227.5 262.2 231 Z" stroke-width="1.26"/>
<path d="M259 224.2 Q275 221.5 286.5 209 L290.5 213.6 Q279 224.5 263 228.6 Z" stroke-width="0.80"/>
<path d="M273 218.5 L276.5 225.5 L280 216" stroke-width="0.92"/>
<path d="M264.7 233.5 Q283 229 294.9 217.1 L300.6 223.7 Q287 237.5 268.8 242.4 Z" stroke-width="1.26"/>
<path d="M267 235 Q284 231 294.5 220.3 L297.8 224 Q286 235 270 239.8 Z" stroke-width="0.80"/>
<path d="M277.5 230 L281.5 236.5 L285 227.5" stroke-width="0.92"/>
<path d="M228.6 230.8 L257.2 236.2 L262.6 244.4 L232.7 239.0Z" stroke-width="1.15"/>
<path d="M231.0 234.0 L258.0 239.5" stroke-width="0.92"/>
<path d="M295.5 194.0 L309.9 217.4 L329.5 229.5 L344.6 244.6 L356.7 262.7" stroke-width="0.00"/>
<path d="M294.5 196.0 C297.0 198.8 304.6 207.9 309.7 212.7 C314.8 217.5 319.8 220.5 324.8 224.8 C329.8 229.1 334.9 233.1 339.9 238.4 C344.9 243.7 350.7 250.3 355.0 256.6 C359.3 262.9 363.3 270.6 365.6 276.2 C367.9 281.8 368.5 286.8 369.0 290.0 C369.5 293.2 369.1 293.6 368.8 295.7 C368.5 297.8 368.8 300.1 367.0 302.8 C365.2 305.5 362.3 308.6 358.2 311.6 C354.1 314.6 348.5 318.1 342.3 321.0 C336.1 323.9 327.5 327.1 321.0 329.0 C314.5 330.9 309.6 332.3 303.4 332.6 C297.2 332.9 290.1 331.9 283.9 330.6 C277.7 329.3 271.8 327.3 266.2 325.0 C260.6 322.7 253.8 319.7 250.3 316.9 C246.8 314.1 245.9 309.5 245.0 308.0" stroke-width="1.61"/>
<path d="M294.5 199.0 C297.3 201.8 305.9 210.6 311.2 215.7 C316.5 220.8 321.5 224.5 326.3 229.3 C331.1 234.1 335.6 238.9 339.9 244.5 C344.2 250.1 348.5 256.6 352.0 262.6 C355.5 268.7 359.1 275.7 361.1 280.8 C363.1 285.9 363.6 289.6 364.0 293.0 C364.4 296.4 364.5 298.8 363.5 301.0 C362.5 303.2 359.1 305.4 358.2 306.3" stroke-width="1.03"/>
<path d="M309.7 230.8 C311.5 232.3 316.5 236.1 320.3 239.9 C324.1 243.7 328.6 248.7 332.4 253.5 C336.2 258.3 340.7 264.1 343.0 268.7 C345.3 273.2 345.8 277.8 346.0 280.8 C346.2 283.8 345.8 284.6 344.0 286.8 C342.2 289.0 339.3 292.1 335.2 293.9 C331.1 295.7 323.1 297.1 319.3 297.4 C315.5 297.7 314.3 296.9 312.2 295.7 C310.1 294.5 307.8 291.3 306.9 290.4" stroke-width="1.38"/>
<path d="M311.2 233.9 C313.2 235.9 319.5 241.7 323.3 246.0 C327.1 250.3 330.9 254.8 333.9 259.6 C336.9 264.4 340.2 270.8 341.4 274.7 C342.6 278.6 342.2 280.5 341.0 283.0 C339.8 285.5 337.5 287.9 334.0 289.5 C330.5 291.1 323.5 292.2 320.0 292.5 C316.5 292.8 314.2 291.2 313.0 291.0" stroke-width="0.92"/>
<path d="M250.3 313.4 C255.3 314.9 271.0 320.1 280.4 322.2 C289.8 324.2 298.1 325.7 306.9 325.7 C315.7 325.7 325.4 324.5 333.4 322.2 C341.4 319.9 349.1 315.1 354.7 311.6 C360.3 308.1 364.9 302.8 367.0 301.0" stroke-width="1.03"/>
<path d="M286.3 282.7 L300.5 278.4 L311.4 287.6 L291.8 293.1Z" stroke-width="1.15"/>
<path d="M286.3 282.7 L277.6 300.7" stroke-width="1.15"/>
<path d="M291.8 293.1 L282.0 304.0" stroke-width="1.15"/>
<path d="M291.8 293.1 C292.2 294.1 291.8 297.2 294.0 299.0 C296.2 300.8 301.6 302.6 305.0 304.0 C308.4 305.4 311.3 306.9 314.6 307.2 C317.9 307.5 323.3 306.2 325.0 306.0" stroke-width="1.03"/>
<path d="M306.0 286.5 L317.0 293.0 L325.0 292.0" stroke-width="1.03"/>
<clipPath id="vwclip"><path d="M254.8 280.0 L272.0 266.5 L281.0 266.5 L294.0 278.4 L273.3 295.3Z"/></clipPath>
<g clip-path="url(#vwclip)" stroke-width="0.69"><path d="M245 255.0 L300 263.0"/><path d="M245 256.2 L300 264.2"/><path d="M245 257.5 L300 265.5"/><path d="M245 258.8 L300 266.8"/><path d="M245 260.0 L300 268.0"/><path d="M245 261.2 L300 269.2"/><path d="M245 262.5 L300 270.5"/><path d="M245 263.8 L300 271.8"/><path d="M245 265.0 L300 273.0"/><path d="M245 266.2 L300 274.2"/><path d="M245 267.5 L300 275.5"/><path d="M245 268.8 L300 276.8"/><path d="M245 270.0 L300 278.0"/><path d="M245 271.2 L300 279.2"/><path d="M245 272.5 L300 280.5"/><path d="M245 273.8 L300 281.8"/><path d="M245 275.0 L300 283.0"/><path d="M245 276.2 L300 284.2"/><path d="M245 277.5 L300 285.5"/><path d="M245 278.8 L300 286.8"/><path d="M245 280.0 L300 288.0"/><path d="M245 281.2 L300 289.2"/><path d="M245 282.5 L300 290.5"/><path d="M245 283.8 L300 291.8"/><path d="M245 285.0 L300 293.0"/><path d="M245 286.2 L300 294.2"/><path d="M245 287.5 L300 295.5"/><path d="M245 288.8 L300 296.8"/><path d="M245 290.0 L300 298.0"/><path d="M245 291.2 L300 299.2"/><path d="M245 292.5 L300 300.5"/><path d="M245 293.8 L300 301.8"/><path d="M245 295.0 L300 303.0"/><path d="M245 296.2 L300 304.2"/><path d="M245 297.5 L300 305.5"/><path d="M245 298.8 L300 306.8"/><path d="M245 300.0 L300 308.0"/><path d="M245 301.2 L300 309.2"/><path d="M245 302.5 L300 310.5"/><path d="M245 303.8 L300 311.8"/></g>
<path d="M254.8 280.0 L272.0 266.5 L281.0 266.5 L294.0 278.4 L273.3 295.3Z" stroke-width="1.26"/>
<path d="M249.4 281.1 C251.4 278.8 256.6 269.9 261.3 267.0 C266.0 264.1 273.3 263.7 277.6 263.7 C281.9 263.7 283.2 264.6 287.0 267.0 C290.8 269.4 298.2 276.1 300.5 277.9" stroke-width="1.15"/>
<path d="M245.0 262.1 L261.3 267.0" stroke-width="1.03"/>
<path d="M280.0 268.0 L292.0 276.0" stroke-width="1.84"/>
<path d="M272 273.5 L276.5 273.5 L274.3 278 Z" fill="#fff" stroke="none"/>
<path d="M331.7 315.1 L351.1 306.3 L352.9 311.6 L335.2 318.7Z" stroke-width="1.15"/>
<path d="M260.4 323.2 L261.8 331.3 L268.6 338.1 L272.7 338.1 L272.7 334.0 L275.4 335.4 L278.1 340.9 L280.9 343.6 L283.6 342.2 L283.6 339.5 L289.0 339.5 L291.7 343.6 L294.5 346.3 L297.2 345.6" stroke-width="1.38"/>
<path d="M312.1 345.6 L313.5 346.3 L314.9 342.2 L318.9 339.5 L320.3 343.6 L324.4 344.9 L327.1 342.2 L328.5 335.4 L332.6 335.4 L333.9 339.5 L338.0 339.5 L339.4 334.0 L343.4 332.7 L346.2 325.9 L347.5 323.2" stroke-width="1.38"/>
<path d="M272.7 327.9 L272.7 334.0" stroke-width="0.92"/>
<path d="M278.1 329.3 L278.1 340.2" stroke-width="0.92"/>
<path d="M283.6 330.6 L283.6 339.5" stroke-width="0.92"/>
<path d="M289.0 331.3 L289.0 339.5" stroke-width="0.92"/>
<path d="M294.5 332.0 L294.5 345.6" stroke-width="0.92"/>
<path d="M314.9 332.0 L314.9 342.2" stroke-width="0.92"/>
<path d="M320.3 331.3 L320.3 342.9" stroke-width="0.92"/>
<path d="M325.7 330.0 L325.7 342.9" stroke-width="0.92"/>
<path d="M331.2 328.6 L331.2 335.4" stroke-width="0.92"/>
<path d="M336.6 327.2 L336.6 339.5" stroke-width="0.92"/>
<path d="M342.1 325.2 L342.1 333.4" stroke-width="0.92"/>
<path d="M297.2 338.1 H312.1 V347.7 H297.2 Z" stroke-width="1.26" fill="#fff"/>
<path d="M300 341 H309.5 M300 344.5 H309.5" stroke-width="0.80"/>
<path d="M297.2 347.7 V359.5 Q304.7 365 312.1 359.5 V347.7" stroke-width="1.38" fill="#fff"/>
<path d="M297.5 350.5 Q304.7 352.5 311.8 350.5" stroke-width="1.03"/>
<path d="M297.5 353.3 Q304.7 355.3 311.8 353.3" stroke-width="1.03"/>
<path d="M297.5 356.1 Q304.7 358.1 311.8 356.1" stroke-width="1.03"/>
<path d="M297.5 358.9 Q304.7 360.9 311.8 358.9" stroke-width="1.03"/>
</g>

</g>
</svg>
</body></html>
